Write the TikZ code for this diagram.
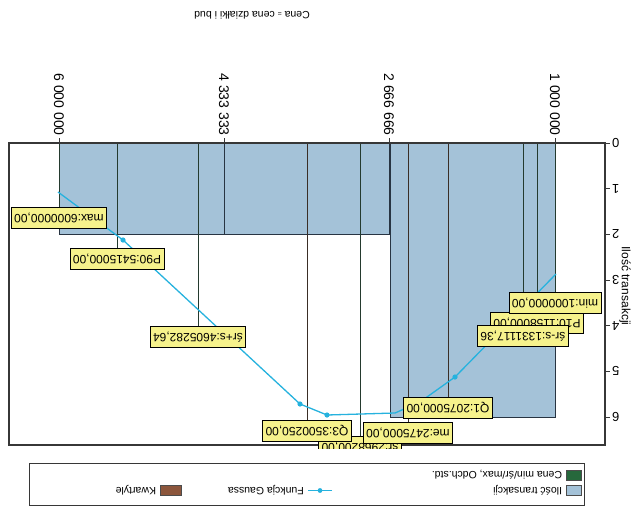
\documentclass[tikz,border=0pt]{standalone}
\usepackage{fontspec}
\setmainfont{Liberation Sans}
\usepackage{xcolor}
\usepackage{tikz}
\usetikzlibrary{positioning,calc}
\pgfdeclarelayer{front}
\pgfsetlayers{main,front}
\definecolor{barblue}{RGB}{164,194,216}
\definecolor{barline}{RGB}{40,52,66}
\definecolor{gausscyan}{RGB}{38,178,222}
\definecolor{labelyellow}{RGB}{246,242,140}
\definecolor{cenagreen}{RGB}{38,104,60}
\definecolor{kwartbrown}{RGB}{140,86,60}
\definecolor{framegrey}{RGB}{55,55,55}
\definecolor{statgreen}{RGB}{36,58,46}
\definecolor{statbrown}{RGB}{58,46,38}
\tikzset{histbar/.style={draw=barline, line width=1pt, fill=barblue}, statline/.style={draw=statgreen, line width=0.9pt}, kwartline/.style={draw=statbrown, line width=0.9pt}, statlabel/.style={rectangle, draw=black, line width=0.9pt, fill=labelyellow, rotate=180, font=\fontsize{12}{12}\selectfont, inner xsep=3pt, inner ysep=0pt, minimum height=21pt}, gaussline/.style={draw=gausscyan, line width=1.3pt, line join=round}, gaussdot/.style={fill=gausscyan}, xticklabel/.style={rotate=-90, font=\fontsize{14}{14}\selectfont, inner sep=1pt}, yticklabel/.style={rotate=180, font=\fontsize{13}{13}\selectfont, inner sep=1pt}, legsquare/.style={rectangle, draw=black!70, line width=0.5pt, minimum width=15pt, minimum height=10pt, inner sep=0pt}, legtext/.style={rotate=180, font=\fontsize{10.5}{10.5}\selectfont, inner sep=0pt}}

\begin{document}
\begin{tikzpicture}[x=1pt, y=-1pt]
\useasboundingbox (0,0) rectangle (634,509);
\node[rotate=180, font=\fontsize{10.5}{10.5}\selectfont] (title) at (252,15) {Cena {\scriptsize =} cena działki i bud};
\node[rotate=-90, font=\fontsize{12}{12}\selectfont] (ylab) at (625,286) {Ilość transakcji};
% histogram
\draw[histbar] (59,143) rectangle (224,234.3);
\draw[histbar] (224,143) rectangle (389,234.3);
\draw[histbar] (390,143) rectangle (555,417);
% labels of the statistics
\begin{pgfonlayer}{front}
\node[statlabel, anchor=south] (lmax) at (59,207) {max:6000000,00};
\node[statlabel, anchor=south] (lp90) at (117,248) {P90:5415000,00};
\node[statlabel, anchor=south] (lsrps) at (198,326) {śr+s:4605282,64};
\begin{scope}
\clip (0,0) rectangle (634,448);
\node[statlabel, anchor=south] (lsr) at (360,436) {śr:2968200,00};
\end{scope}
\node[statlabel, anchor=south] (lq3) at (307,420) {Q3:3500250,00};
\node[statlabel, anchor=south] (lme) at (408,422) {me:2475000,00};
\node[statlabel, anchor=south] (lq1) at (448,397) {Q1:2075000,00};
\node[statlabel, anchor=south] (lp10) at (537,312) {P10:1158000,00};
\node[statlabel, anchor=south] (lmin) at (555,292) {min:1000000,00};
\node[statlabel, anchor=south] (lsrms) at (523,325) {śr-s:1331117,36};
\end{pgfonlayer}
\draw[statline] (59,143) -- (lmax.south);
\draw[statline] (117,143) -- (lp90.south);
\draw[statline] (198,143) -- (lsrps.south);
\draw[kwartline] (307,143) -- (lq3.south);
\draw[statline] (360,143) -- (lsr.south);
\draw[kwartline] (408,143) -- (lme.south);
\draw[kwartline] (448,143) -- (lq1.south);
\draw[statline] (523,143) -- (lsrms.south);
\draw[statline] (537,143) -- (lp10.south);
\draw[statline] (555,143) -- (lmin.south);
% Gauss function
\draw[gaussline] (556,274) -- (455,377) -- (420,402) -- (395,413) -- (327,415) -- (300,404) -- (123,240) -- (58,192);
\fill[gaussdot] (455,377) circle (2.6) (327,415) circle (2.6) (300,404) circle (2.6) (123,240) circle (2.6);
% frame and axes
\draw[framegrey, line width=1.5pt] (9,143) rectangle (605,445);
\draw[framegrey, line width=1pt] (59,143) -- (59,138) (224,143) -- (224,138) (389,143) -- (389,138) (555,143) -- (555,138);
\node[xticklabel, anchor=east] (x6) at (59,137) {6 000 000};
\node[xticklabel, anchor=east] (x4) at (224,137) {4 333 333};
\node[xticklabel, anchor=east] (x2) at (389,137) {2 666 666};
\node[xticklabel, anchor=east] (x1) at (555,137) {1 000 000};
\draw[framegrey, line width=1pt] (605,143) -- (610,143) (605,188.7) -- (610,188.7) (605,234.3) -- (610,234.3) (605,280) -- (610,280) (605,325.7) -- (610,325.7) (605,371.3) -- (610,371.3) (605,417) -- (610,417);
\node[yticklabel, anchor=east] (y0) at (611,143) {0};
\node[yticklabel, anchor=east] (y1) at (611,188.7) {1};
\node[yticklabel, anchor=east] (y2) at (611,234.3) {2};
\node[yticklabel, anchor=east] (y3) at (611,280) {3};
\node[yticklabel, anchor=east] (y4) at (611,325.7) {4};
\node[yticklabel, anchor=east] (y5) at (611,371.3) {5};
\node[yticklabel, anchor=east] (y6) at (611,417) {6};
% legend
\draw[framegrey, line width=0.8pt] (29,463) rectangle (584,505);
\node[legsquare, fill=cenagreen] (kgreen) at (574,475) {};
\node[legtext, anchor=west] (tgreen) at ([xshift=-4pt]kgreen.west) {Cena min/śr/max, Odch.std.};
\node[legsquare, fill=barblue] (kblue) at (574,490.5) {};
\node[legtext, anchor=west] (tblue) at ([xshift=-4pt]kblue.west) {Ilość transakcji};
\coordinate (gaussa) at (332,490.5);
\coordinate (gaussb) at (308,490.5);
\draw[gaussline] (gaussa) -- (gaussb);
\fill[gaussdot] ($(gaussa)!0.5!(gaussb)$) circle (2.4);
\node[legtext, anchor=west] (tgauss) at ([xshift=-4pt]gaussb) {Funkcja Gaussa};
\node[legsquare, fill=kwartbrown, minimum width=21pt] (kbrown) at (171,490.5) {};
\node[legtext, anchor=west] (tbrown) at ([xshift=-4pt]kbrown.west) {Kwartyle};
\end{tikzpicture}
\end{document}
